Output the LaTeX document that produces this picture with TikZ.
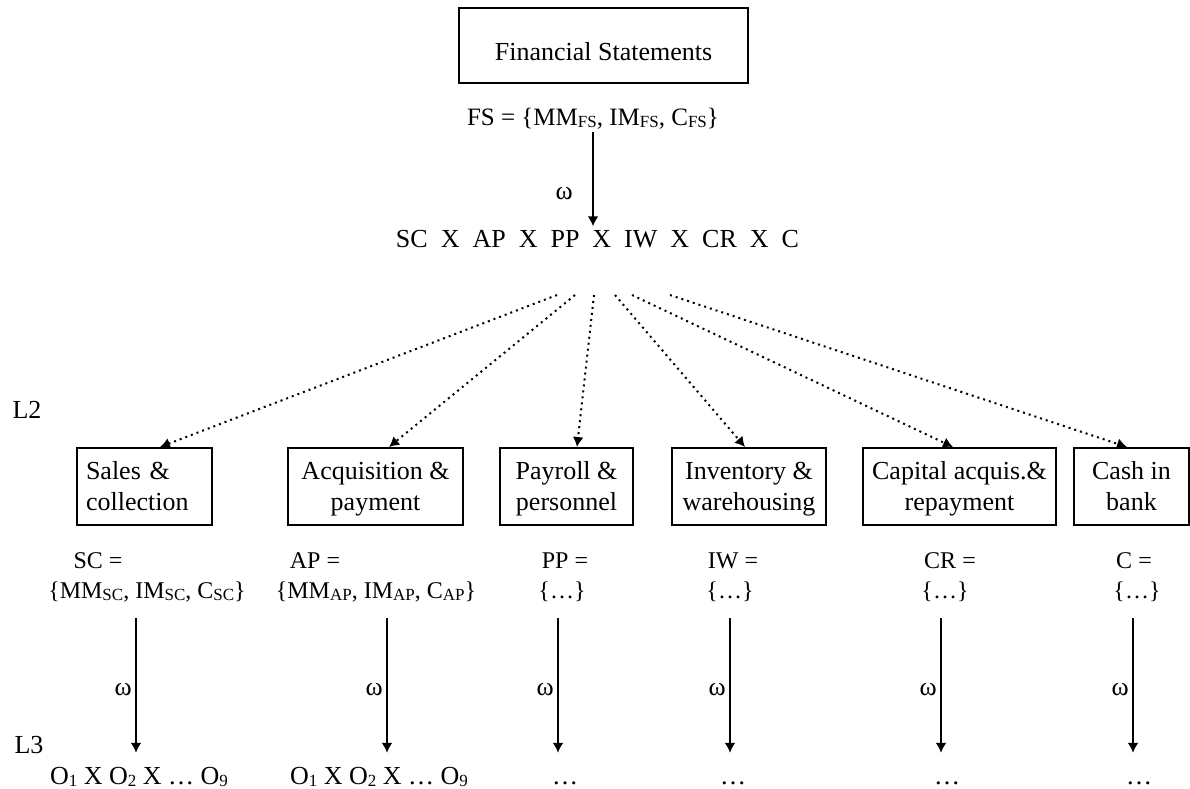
\documentclass[tikz,border=0pt]{standalone}
\usepackage{fontspec}
\setmainfont{Liberation Serif}
\usetikzlibrary{arrows.meta}

\begin{document}
\begin{tikzpicture}[x=1pt,y=-1pt,>={Latex[length=10pt,width=11pt]},
	font=\fontsize{26}{31}\selectfont,
	stmtbox/.style={draw,line width=2pt,minimum height=77pt,align=center,text height=49pt,text depth=1pt},
	setlabel/.style={anchor=base,font=\fontsize{24}{28}\selectfont},
	result/.style={anchor=base,text height=18pt,inner ysep=13pt},
	omegaarrow/.style={->,line width=2pt},
	dotarrow/.style={->,line width=2pt,dash pattern=on 2pt off 4pt}]

\def\idx#1{\raisebox{-2pt}{\fontsize{17}{17}\selectfont #1}}

\useasboundingbox (0,0) rectangle (1190,788);

\node[stmtbox,minimum width=289pt,minimum height=75pt,text height=29pt,text depth=0pt] (fin) at (603.5,45.5) {Financial Statements};
\node[anchor=base,font=\fontsize{25}{30}\selectfont] (fs) at (593,125) {FS = \{MM\idx{FS}, IM\idx{FS}, C\idx{FS}\}};
\node[anchor=base] (prod) at (597.5,247) {SC\enspace X\enspace AP\enspace X\enspace PP\enspace X\enspace IW\enspace X\enspace CR\enspace X\enspace C};

\draw[omegaarrow] (fs.south) -- node[pos=0.65,left=16pt]{ω} (fs.south |- prod.north);

\node[anchor=base] (ltwo) at (27,418) {L2};
\node[anchor=base] (lthree) at (29,753) {L3};

\node[stmtbox,text width=117pt,align=left,minimum width=135pt,text height=18pt,text depth=32pt] (scbox) at (144.5,486.5) {Sales \&\\collection};
\node[stmtbox,minimum width=175pt] (apbox) at (375.5,486.5) {Acquisition \&\\payment};
\node[stmtbox,minimum width=133pt] (ppbox) at (566.5,486.5) {Payroll \&\\personnel};
\node[stmtbox,minimum width=154pt] (iwbox) at (749,486.5) {Inventory \&\\warehousing};
\node[stmtbox,minimum width=193pt] (crbox) at (959.5,486.5) {Capital acquis.\&\\repayment};
\node[stmtbox,minimum width=115pt] (cbox) at (1131.5,486.5) {Cash in\\bank};

\foreach \n/\x/\dx in {sc/557/15.5,ap/575/13.5,pp/594/10.5,iw/615/-4,cr/632/-6.5,c/670/-4.5}{
	\coordinate (\n from) at (\x,295);
	\draw[dotarrow] (\n from) -- ([xshift=\dx pt]\n box.north);
}

\node[setlabel] (sclab) at (98,568) {SC =};
\node[setlabel] (aplab) at (315,568) {AP =};
\node[setlabel] (pplab) at (565,568) {PP =};
\node[setlabel] (iwlab) at (733,568) {IW =};
\node[setlabel] (crlab) at (950,568) {CR =};
\node[setlabel] (clab) at (1134,568) {C =};

\node[setlabel] (scset) at (147,598) {\{MM\idx{SC}, IM\idx{SC}, C\idx{SC}\}};
\node[setlabel] (apset) at (376,598) {\{MM\idx{AP}, IM\idx{AP}, C\idx{AP}\}};
\node[setlabel] (ppset) at (562,598) {\{\dots\}};
\node[setlabel] (iwset) at (730,598) {\{\dots\}};
\node[setlabel] (crset) at (945,598) {\{\dots\}};
\node[setlabel] (cset) at (1137,598) {\{\dots\}};

\node[result] (scres) at (139,784) {O\idx{1} X O\idx{2} X \dots{} O\idx{9}};
\node[result] (apres) at (379,784) {O\idx{1} X O\idx{2} X \dots{} O\idx{9}};
\node[result] (ppres) at (565,784) {\dots};
\node[result] (iwres) at (733,784) {\dots};
\node[result] (crres) at (947,784) {\dots};
\node[result] (cres) at (1139,784) {\dots};

\foreach \n/\x in {sc/136,ap/387,pp/558,iw/730,cr/941,c/1133}{
	\coordinate (\n top) at (\x,618);
	\draw[omegaarrow] (\n top) -- node[pos=0.53,left]{ω} (\n top |- \n res.north);
}

\end{tikzpicture}
\end{document}
